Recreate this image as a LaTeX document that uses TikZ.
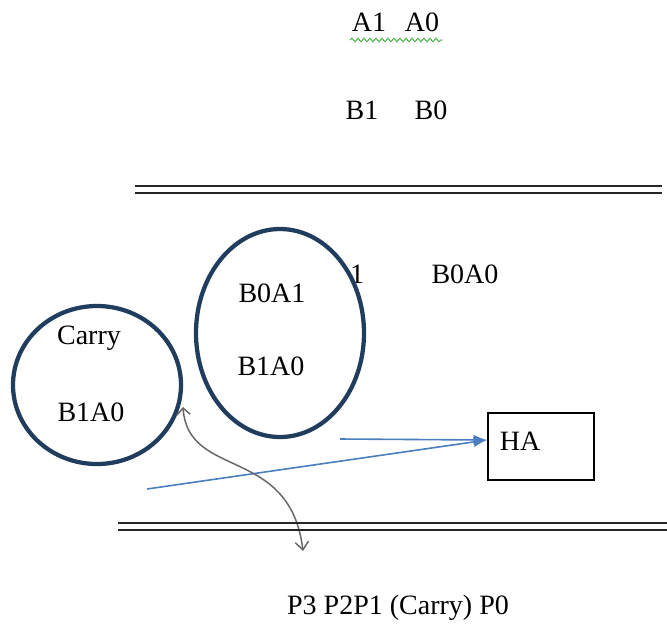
\documentclass[tikz,border=0pt]{standalone}
\usepackage{fontspec}
\setmainfont{Liberation Serif}
\usepackage{tikz}
\usetikzlibrary{shapes.geometric,decorations.pathmorphing,arrows.meta}
\definecolor{ringblue}{HTML}{213D5E}
\definecolor{lineblue}{HTML}{4A7EC0}
\definecolor{wavegreen}{HTML}{3DAA3D}
\tikzset{txt/.style={inner sep=0pt,font=\fontsize{21}{25}\selectfont}}
\tikzset{ring/.style={draw=ringblue,line width=3.2pt,ellipse,inner sep=0pt}}
\tikzset{eqline/.style={line width=1.6pt,black!85}}
\tikzset{arrow/.style={lineblue,line width=1.2pt,-{Latex[length=10pt,width=8pt]}}}

\begin{document}
\begin{tikzpicture}[x=0.75pt,y=-0.75pt]
            % basics
            \useasboundingbox (0,0) rectangle (667,626);
            \node[txt] (a1) at (369,22) {A1};
            \node[txt] (a0) at (422,22) {A0};
            \draw[wavegreen,line width=0.7pt,decorate,decoration={snake,amplitude=1.3pt,segment length=4.5pt}] (350,40) -- (443,40);
            \node[txt] (b1) at (362,110) {B1};
            \node[txt] (b0) at (431,110) {B0};
            % upper rule
            \draw[eqline] (135,186) -- (662,186);
            \draw[eqline] (135,193) -- (662,193);
            \node[txt] (one) at (357,274) {1};
            \node[txt] (b0a0) at (465,274) {B0A0};
            % circles
            \node[ring,minimum width=168pt*0.75,minimum height=208pt*0.75] (r2) at (280,333) {};
            \node[ring,minimum width=168pt*0.75,minimum height=158pt*0.75] (r1) at (97,385) {};
            \node[txt] (b0a1) at (272,293) {B0A1};
            \node[txt] (b1a0r) at (271,366) {B1A0};
            \node[txt] (carry) at (89,338) {Carry};
            \node[txt] (b1a0l) at (91,412) {B1A0};
            % half adder
            \node[draw,line width=1.5pt,minimum width=106pt*0.75,minimum height=67pt*0.75,anchor=west] (ha) at (487,446) {};
            \node[txt] (hat) at (520,441) {HA};
            \coordinate (s1) at (340,439);
            \coordinate (s2) at (147,489);
            \draw[arrow] (s1) -- (ha.west |- 0,440);
            \draw[arrow] (s2) -- (ha.west |- 0,440);
            % curved arrow
            \coordinate (c1) at (183,407);
            \coordinate (c2) at (303,551);
            \draw[gray!80!black,line width=1.1pt,{Straight Barb[length=5pt]}-{Straight Barb[length=6pt,width=10pt]}] (c1) .. controls (188,480) and (290,445) .. (c2);
            % lower rule
            \draw[eqline] (118,523) -- (667,523);
            \draw[eqline] (118,530) -- (667,530);
            \node[txt] (prod) at (398,608) {P3 P2P1 (Carry) P0};
        \end{tikzpicture}
\end{document}
